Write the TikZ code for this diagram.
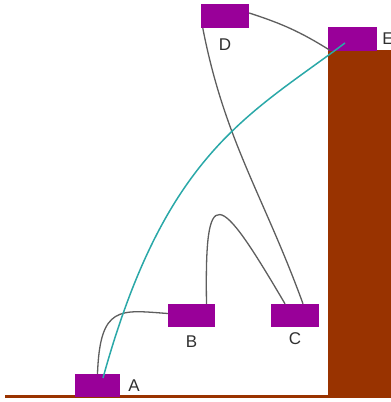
\documentclass[tikz,border=0pt]{standalone}
\usepackage{fontspec}
\setmainfont{Liberation Sans}
\usetikzlibrary{positioning,calc}
\definecolor{wallFill}{HTML}{993300}
\definecolor{boxFill}{HTML}{990099}
\definecolor{wireGray}{HTML}{5E5E5E}
\definecolor{ropeCyan}{HTML}{2AA8A8}
\definecolor{lblText}{HTML}{303030}

\begin{document}
\begin{tikzpicture}[
    x=1pt, y=1pt,
    anchorbox/.style={rectangle, fill=boxFill, inner sep=0pt,
                      minimum width=48pt, minimum height=24pt},
    lbl/.style={text=lblText, inner sep=0pt, font=\fontsize{17}{17}\selectfont},
    wire/.style={draw=wireGray, line width=1.3pt},
    rope/.style={draw=ropeCyan, line width=1.5pt},
  ]
  \useasboundingbox (0,0) rectangle (391,402);

  % WALL AND GROUND
  \fill[wallFill] (328,4) rectangle (391,352);
  \draw[wallFill, line width=3pt] (5,5.5) -- (342,5.5);

  % ANCHOR BOXES
  \node[anchorbox, minimum width=45pt, minimum height=23pt] (A) at (97.5,16.5) {};
  \node[anchorbox, minimum width=47pt, minimum height=23pt] (B) at (191.5,86.5) {};
  \node[anchorbox, minimum height=23pt] (C) at (295,86.5) {};
  \node[anchorbox] (D) at (225,386) {};
  \node[anchorbox, minimum width=49pt] (E) at (352.5,363) {};

  % LABELS
  \node[lbl, right=8pt of A] (labA) {A};
  \node[lbl, below=8pt of B] (labB) {B};
  \node[lbl, below=5pt of C] (labC) {C};
  \node[lbl, below=10pt of D] (labD) {D};
  \node[lbl, right=5pt of E] (labE) {E};

  % WIRES
  \draw[wire] ($(D.east)+(0,3)$) to[out=-18, in=148] ($(E.south west)+(2,1)$);
  \draw[wire] ($(D.south west)+(2,0)$) to[out=-79, in=110] ($(C.north)+(8,0)$);
  \draw[wire] ($(B.north)+(15,0)$) .. controls +(-2,124) and +(-67,114) .. ($(C.north)+(-10,0)$);
  \draw[wire] (A.north) .. controls +(2.5,69) and +(-48,3.5) .. ($(B.west)+(0,2)$);

  % ROPE
  \draw[rope] ($(A.center)+(5.5,7.5)$) .. controls +(62,225) and +(-96,-72) .. ($(E.center)+(-7.5,-4)$);

\end{tikzpicture}
\end{document}
